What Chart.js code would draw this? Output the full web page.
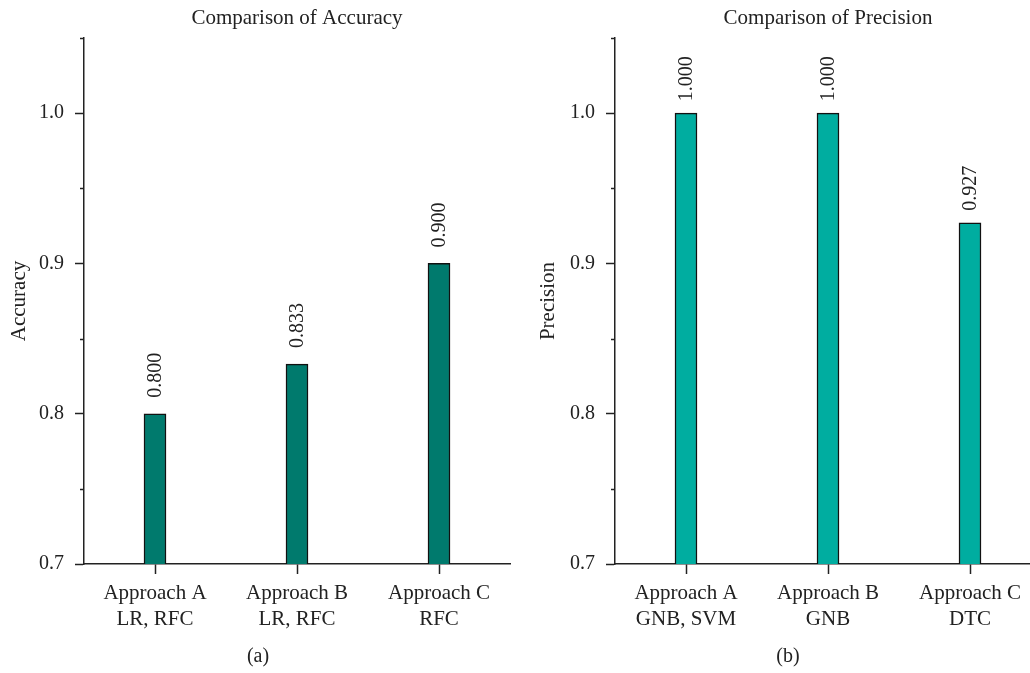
<!DOCTYPE html>
<html>
<head>
<meta charset="utf-8">
<script src="https://cdn.jsdelivr.net/npm/chart.js@4.4.1/dist/chart.umd.min.js"></script>
<style>
  html, body { margin: 0; padding: 0; background: #fff; overflow: hidden; }
  body { width: 1030px; height: 673px; position: relative; font-family: "Liberation Serif", serif; }
  canvas { position: absolute; top: 0; }
  .cap { position: absolute; top: 644px; font-size: 20px; color: #222; transform: translateX(-50%); }
</style>
</head>
<body>
<canvas id="accChart" width="515" height="673" style="left:0"></canvas>
<canvas id="precChart" width="530" height="673" style="left:515px"></canvas>
<div class="cap" style="left:258px">(a)</div>
<div class="cap" style="left:788px">(b)</div>

<script>
// данные
var accLabels = [["Approach A", "LR, RFC"], ["Approach B", "LR, RFC"], ["Approach C", "RFC"]];
var accValues = [0.800, 0.833, 0.900];
var precLabels = [["Approach A", "GNB, SVM"], ["Approach B", "GNB"], ["Approach C", "DTC"]];
var precValues = [1.000, 1.000, 0.927];
var yMin = 0.7;
var yMax = 1.05;
var yStep = 0.05;

var ink = "#222";
var serif = "Liberation Serif";

function isMajor(v) {
  return Math.abs(v * 10 - Math.round(v * 10)) < 1e-6;
}

// подписи над столбцами, повернутые на 90 градусов
var valueLabels = {
  id: "valueLabels",
  afterDatasetsDraw: function (chart, args, opts) {
    var ctx = chart.ctx;
    var meta = chart.getDatasetMeta(0);
    var data = chart.data.datasets[0].data;
    ctx.save();
    ctx.font = "20px " + serif;
    ctx.fillStyle = ink;
    ctx.textAlign = "left";
    ctx.textBaseline = "middle";
    meta.data.forEach(function (bar, i) {
      ctx.save();
      ctx.translate(bar.x, bar.y - opts.gap);
      ctx.rotate(-Math.PI / 2);
      ctx.fillText(data[i].toFixed(3), 0, 1);
      ctx.restore();
    });
    ctx.restore();
  },
};

// короткие промежуточные засечки и заголовок над областью графика
var extras = {
  id: "extras",
  afterDraw: function (chart, args, opts) {
    var ctx = chart.ctx;
    var y = chart.scales.y;
    var area = chart.chartArea;
    ctx.save();
    ctx.strokeStyle = ink;
    ctx.lineWidth = 1.5;
    y.ticks.forEach(function (t) {
      if (isMajor(t.value)) return;
      var py = Math.round(y.getPixelForValue(t.value)) + 0.5;
      ctx.beginPath();
      ctx.moveTo(area.left - 4, py);
      ctx.lineTo(area.left, py);
      ctx.stroke();
    });
    ctx.font = "21px " + serif;
    ctx.fillStyle = ink;
    ctx.textAlign = "center";
    ctx.textBaseline = "middle";
    ctx.fillText(opts.title, (area.left + area.right) / 2, 18);
    ctx.restore();
  },
};

function makeChart(id, labels, values, color, yTitle, title, axisWidth, titlePad, padRight, gap) {
  return new Chart(id, {
    type: "bar",
    data: {
      labels: labels,
      datasets: [
        {
          data: values,
          backgroundColor: color,
          borderColor: "#111",
          borderWidth: 1.5,
          borderSkipped: "bottom",
          barThickness: 22,
        },
      ],
    },
    options: {
      responsive: false,
      animation: false,
      devicePixelRatio: 1,
      layout: { padding: { top: 38, right: padRight, bottom: 39, left: 0 } },
      plugins: {
        legend: { display: false },
        tooltip: { enabled: false },
        valueLabels: { gap: gap },
        extras: { title: title },
      },
      scales: {
        x: {
          offset: true,
          afterFit: function (s) { s.height = 70; },
          grid: {
            display: true,
            drawOnChartArea: false,
            offset: false,
            tickLength: 10,
            tickColor: ink,
            tickWidth: 1.5,
          },
          border: { display: true, color: ink, width: 1.5 },
          ticks: {
            color: ink,
            padding: 6,
            maxRotation: 0,
            autoSkip: false,
            font: { family: serif, size: 21, lineHeight: 1.25 },
          },
        },
        y: {
          min: yMin,
          max: yMax,
          afterFit: function (s) { s.width = axisWidth; },
          grid: {
            display: true,
            drawOnChartArea: false,
            tickLength: 9,
            tickWidth: 1.5,
            tickColor: function (c) { return isMajor(c.tick.value) ? ink : "rgba(0,0,0,0)"; },
          },
          border: { display: true, color: ink, width: 1.5 },
          ticks: {
            stepSize: yStep,
            color: ink,
            padding: 11,
            font: { family: serif, size: 20 },
            callback: function (v) { return isMajor(v) ? v.toFixed(1) : ""; },
          },
          title: {
            display: true,
            text: yTitle,
            color: ink,
            padding: { top: titlePad - 1, bottom: 0 },
            font: { family: serif, size: 21 },
          },
        },
      },
    },
    plugins: [valueLabels, extras],
  });
}

makeChart("accChart", accLabels, accValues, "#007A6D", "Accuracy", "Comparison of Accuracy", 84, 8, 5, 16);
makeChart("precChart", precLabels, precValues, "#00ADA0", "Precision", "Comparison of Precision", 100, 22, 4, 12);
</script>
</body>
</html>
